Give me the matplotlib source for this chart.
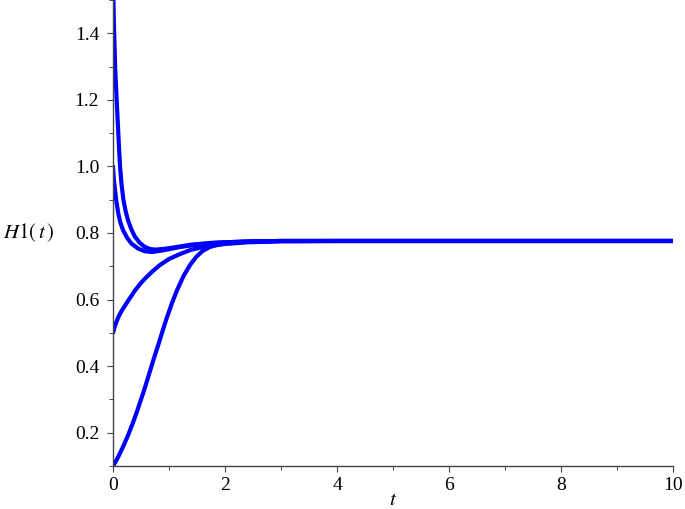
import matplotlib
matplotlib.use('Agg')
import matplotlib.pyplot as plt
from matplotlib.ticker import MultipleLocator

# curves: H1(t) for four starting values
t1 = [0, 0.01, 0.02, 0.04, 0.065, 0.1, 0.125, 0.15, 0.185, 0.23, 0.27, 0.33, 0.39,
      0.48, 0.57, 0.66, 0.75, 0.9, 1.1, 1.4, 1.8, 2.3, 3, 4, 6, 8, 10]
h1 = [1.6, 1.47, 1.40, 1.29, 1.20, 1.08, 1.0, 0.95, 0.90, 0.862, 0.837, 0.81, 0.789,
      0.77, 0.758, 0.752, 0.75, 0.752, 0.757, 0.765, 0.771, 0.774, 0.776, 0.776, 0.776, 0.776, 0.776]

t2 = [0, 0.01, 0.02, 0.036, 0.06, 0.095, 0.13, 0.18, 0.25, 0.33, 0.45, 0.57, 0.7,
      0.9, 1.2, 1.6, 2.0, 2.5, 3, 4, 6, 8, 10]
h2 = [1.0, 0.97, 0.952, 0.928, 0.895, 0.858, 0.832, 0.808, 0.786, 0.768, 0.753, 0.745, 0.743,
      0.748, 0.758, 0.767, 0.772, 0.775, 0.776, 0.776, 0.776, 0.776, 0.776]

t3 = [0, 0.03, 0.06, 0.1, 0.15, 0.21, 0.3, 0.39, 0.5, 0.6, 0.72, 0.84, 1.0, 1.2, 1.4, 1.7,
      2.0, 2.4, 3, 4, 6, 8, 10]
h3 = [0.5, 0.518, 0.533, 0.549, 0.565, 0.581, 0.604, 0.627, 0.65, 0.668, 0.687, 0.704, 0.722, 0.737, 0.75, 0.761,
      0.767, 0.772, 0.775, 0.776, 0.776, 0.776, 0.776]

t4 = [0, 0.05, 0.1, 0.18, 0.27, 0.36, 0.42, 0.48, 0.54, 0.6, 0.66, 0.72, 0.81, 0.88, 0.96, 1.05,
      1.14, 1.26, 1.38, 1.49, 1.6, 1.73, 1.88, 2.03, 2.27, 2.6, 3, 4, 6, 8, 10]
h4 = [0.1, 0.114, 0.13, 0.158, 0.193, 0.232, 0.26, 0.29, 0.32, 0.352, 0.385, 0.418, 0.465, 0.503, 0.545, 0.588,
      0.627, 0.671, 0.705, 0.729, 0.746, 0.758, 0.765, 0.77, 0.773, 0.775, 0.776, 0.776, 0.776, 0.776, 0.776]

plt.rcParams['font.family'] = ['Liberation Serif']
plt.rcParams['mathtext.fontset'] = 'stix'

fig = plt.figure(figsize=(6.85, 5.09), dpi=100)
ax = fig.add_axes([0.165, 0.0845, 0.8175, 0.9155])

for t, h in [(t1, h1), (t2, h2), (t3, h3), (t4, h4)]:
    ax.plot(t, h, color='#0000ff', linewidth=3.0, solid_capstyle='round', solid_joinstyle='round')

ax.set_xlim(0, 10)
ax.set_ylim(0.1, 1.5)

ax.spines['top'].set_visible(False)
ax.spines['right'].set_visible(False)
for s in ['left', 'bottom']:
    ax.spines[s].set_color('#444444')
    ax.spines[s].set_linewidth(1.0)

ax.xaxis.set_major_locator(MultipleLocator(2))
ax.xaxis.set_minor_locator(MultipleLocator(1))
ax.set_yticks([0.2, 0.4, 0.6, 0.8, 1.0, 1.2, 1.4])
ax.set_yticklabels(['0.2', '0.4', '0.6', '0.8', '1.0', '1.2', '1.4'])
ax.yaxis.set_minor_locator(MultipleLocator(0.1))
ax.tick_params(which='major', length=4, width=0.8, color='#444444', labelsize=14)
ax.tick_params(axis='y', which='major', pad=6)
ax.tick_params(axis='x', which='major', pad=4)
ax.tick_params(which='minor', length=3, width=0.7, color='#444444')

ax.set_xlabel(r'$t$', fontsize=15, labelpad=-2)
fig.text(0.005, 1 - 233 / 509, r'$H\mathit{1}(\,t\,)$', fontsize=15, va='center', ha='left')

fig.savefig('out.png', dpi=100)
